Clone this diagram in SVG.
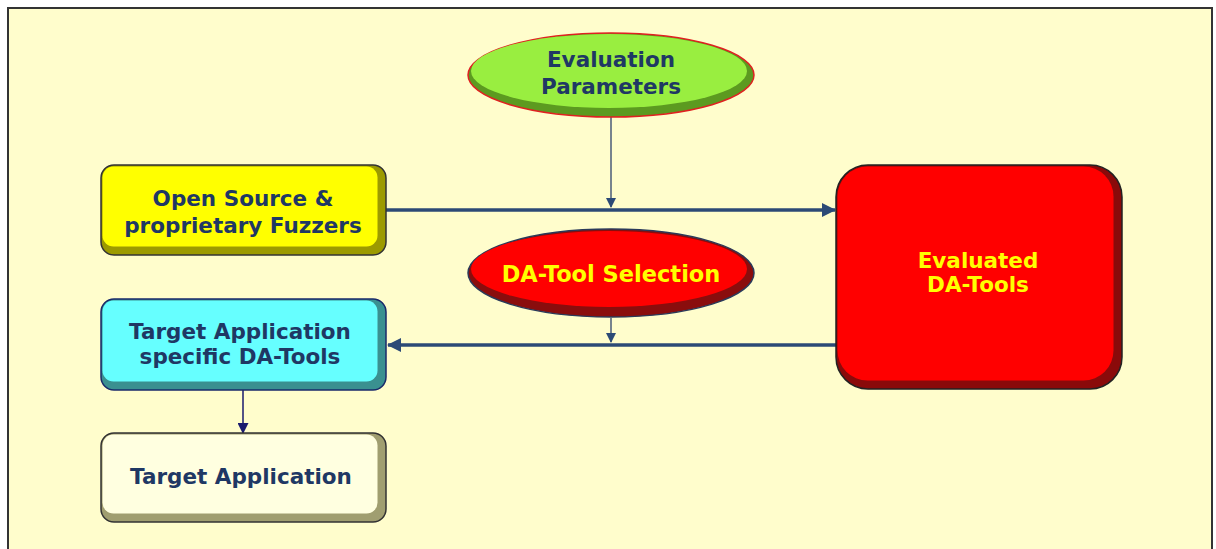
<svg xmlns="http://www.w3.org/2000/svg" width="1216" height="549" viewBox="0 0 1216 549">
<style>
.t{font-family:"DejaVu Sans",Verdana,sans-serif;font-weight:bold;font-size:21.5px;text-anchor:middle}
.navy{fill:#1f3864}
.yel{fill:#ffff00}
.thick{stroke:#2c4a76;stroke-width:3.5;fill:none}
.thin{stroke:#4a5a78;stroke-width:1.5;fill:none}
</style>
<defs>
<marker id="ah" markerWidth="10" markerHeight="10" refX="9" refY="5" orient="auto" markerUnits="userSpaceOnUse" viewBox="0 0 10 10">
<path d="M0,0 L10,5 L0,10 Z" fill="#2c4a76"/>
</marker>
<marker id="ahBig" markerWidth="14" markerHeight="14" refX="13" refY="7" orient="auto" markerUnits="userSpaceOnUse" viewBox="0 0 14 14">
<path d="M0,0 L14,7 L0,14 Z" fill="#2c4a76"/>
</marker>
<marker id="ahNavy" markerWidth="11" markerHeight="11" refX="10" refY="5.5" orient="auto" markerUnits="userSpaceOnUse" viewBox="0 0 11 11">
<path d="M0,0 L11,5.5 L0,11 Z" fill="#1a1a6e"/>
</marker>
</defs>
<rect x="0" y="0" width="1216" height="549" fill="#ffffff"/>
<rect x="8" y="8" width="1204" height="560" fill="#fffdcc" stroke="#333333" stroke-width="2"/>

<g id="connectors">
<line class="thick" x1="386" y1="210" x2="835" y2="210" marker-end="url(#ahBig)"/>
<line class="thick" x1="836" y1="345" x2="388" y2="345" marker-end="url(#ahBig)"/>
<line class="thin" x1="611" y1="117" x2="611" y2="207" marker-end="url(#ah)"/>
<line class="thin" x1="611" y1="318" x2="611" y2="342" marker-end="url(#ah)"/>
<line x1="243" y1="390" x2="243" y2="433" stroke="#1a1a6e" stroke-width="1.5" marker-end="url(#ahNavy)"/>
</g>

<g id="eval-params">
<ellipse cx="611" cy="75" rx="143" ry="42" fill="#5c9a20" stroke="#e02020" stroke-width="1.5"/>
<ellipse cx="609" cy="71" rx="138" ry="37" fill="#99ee40"/>
<text class="t navy" x="611" y="67">Evaluation</text>
<text class="t navy" x="611" y="94">Parameters</text>
</g>

<g id="open-source">
<rect x="101" y="165" width="285" height="90" rx="13" fill="#9c9a00" stroke="#333" stroke-width="1.5"/>
<rect x="102.5" y="166.5" width="275" height="80" rx="11" fill="#ffff00"/>
<text class="t navy" x="243" y="206">Open Source &amp;</text>
<text class="t navy" x="243" y="233">proprietary Fuzzers</text>
</g>

<g id="da-tool-selection">
<ellipse cx="611" cy="273" rx="143" ry="44" fill="#8a0d0d" stroke="#2a3a5a" stroke-width="1.5"/>
<ellipse cx="609" cy="269" rx="138" ry="38" fill="#ff0000"/>
<text class="t yel" x="611" y="282" style="font-size:22.5px">DA-Tool Selection</text>
</g>

<g id="target-specific">
<rect x="101" y="299" width="285" height="91" rx="13" fill="#3a9090" stroke="#1a2a6a" stroke-width="1.5"/>
<rect x="102.5" y="300.5" width="275" height="81" rx="11" fill="#66ffff"/>
<text class="t navy" x="240" y="339">Target Application</text>
<text class="t navy" x="240" y="364">specific DA-Tools</text>
</g>

<g id="target-app">
<rect x="101" y="433" width="285" height="89" rx="13" fill="#a09e70" stroke="#333" stroke-width="1.5"/>
<rect x="102.5" y="434.5" width="275" height="79" rx="11" fill="#ffffe0"/>
<text class="t navy" x="241" y="484">Target Application</text>
</g>

<g id="evaluated">
<rect x="836" y="165" width="286" height="224" rx="32" fill="#8a0a0a" stroke="#222" stroke-width="1.5"/>
<rect x="837.5" y="166.5" width="276" height="214" rx="30" fill="#ff0000"/>
<text class="t yel" x="978" y="268">Evaluated</text>
<text class="t yel" x="978" y="292">DA-Tools</text>
</g>
</svg>
